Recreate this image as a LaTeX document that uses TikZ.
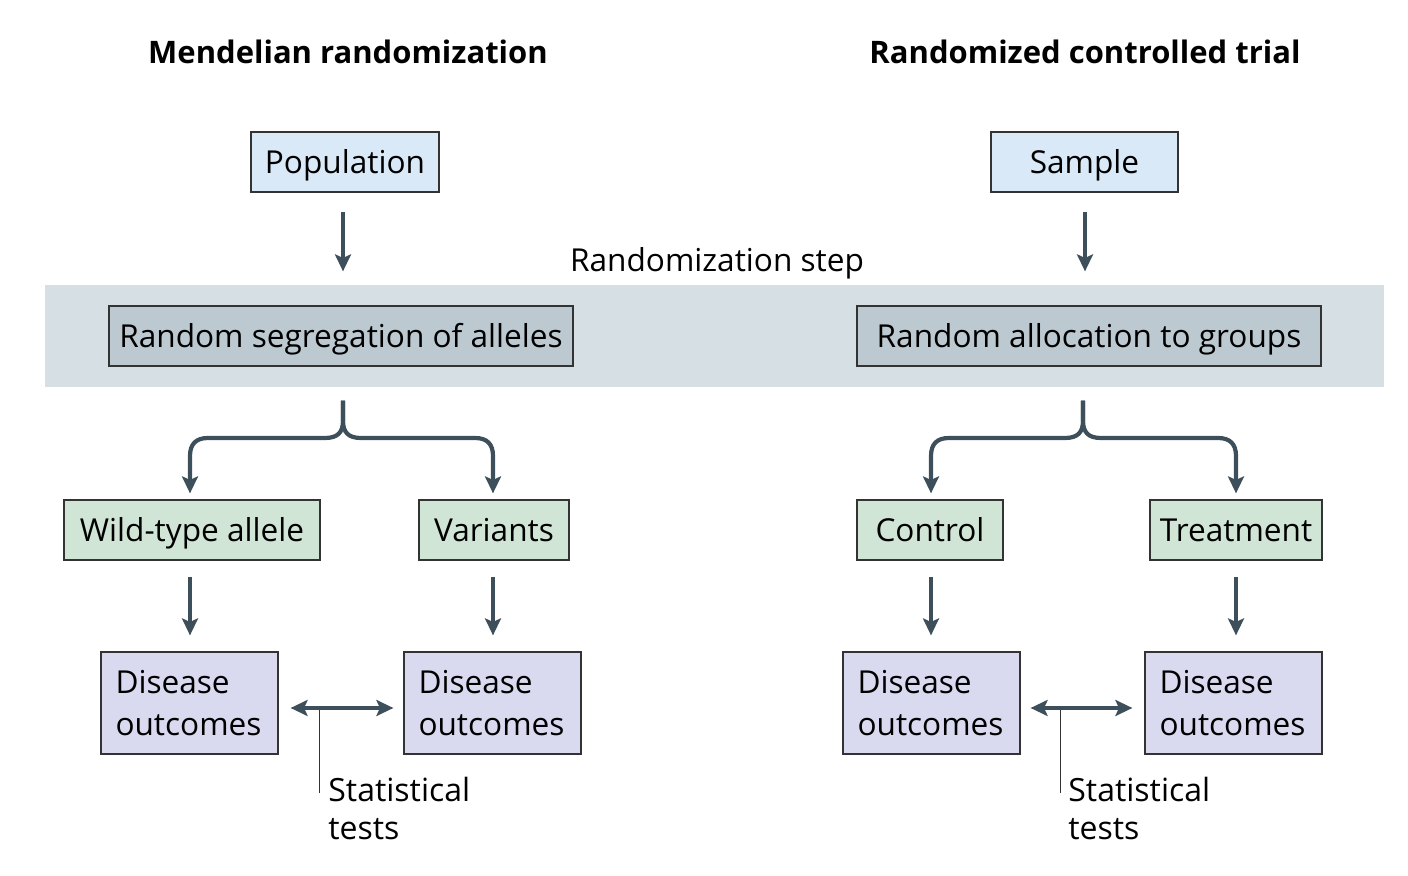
\documentclass[tikz,border=0pt]{standalone}
\usepackage{fontspec}
\setmainfont{Open Sans}
\usetikzlibrary{arrows.meta,calc}
\definecolor{arrc}{HTML}{3D4F5A}
\definecolor{bluebox}{HTML}{DAE9F7}
\definecolor{bandc}{HTML}{D6DFE3}
\definecolor{graybox}{HTML}{BCC9D1}
\definecolor{greenbox}{HTML}{D0E5D5}
\definecolor{purplebox}{HTML}{D9D9EF}
\definecolor{edgec}{HTML}{333333}
\begin{document}
\begin{tikzpicture}[x=0.5pt,y=-0.5pt,
  txt/.style={font=\fontsize{15.8}{19}\selectfont},
  ttl/.style={font=\fontsize{15.5}{18}\selectfont\bfseries},
  box/.style={draw=edgec,line width=0.6pt,inner sep=0pt,minimum height=30pt,text height=13pt,text depth=1.7pt,txt},
  bluen/.style={box,fill=bluebox},
  grayn/.style={box,fill=graybox},
  greenn/.style={box,fill=greenbox},
  dbox/.style={draw=edgec,line width=0.6pt,fill=purplebox,minimum height=51pt,text width=74pt,inner xsep=7.25pt,inner ysep=0pt,align=left,font=\fontsize{15.8}{21.3}\selectfont},
  arr/.style={draw=arrc,line width=2.1pt,-{Stealth[width=8pt,length=8.5pt,inset=1.8pt]}},
  darr/.style={draw=arrc,line width=2.1pt,{Stealth[width=8pt,length=8.5pt,inset=1.8pt]}-{Stealth[width=8pt,length=8.5pt,inset=1.8pt]}},
  thinl/.style={draw=edgec,line width=0.5pt},
  stat/.style={anchor=north west,align=left,inner sep=0pt,font=\fontsize{16}{19}\selectfont}
]
\useasboundingbox (0,0) rectangle (1408,876);
% band
\fill[bandc] (45,285) rectangle (1384,387);
% titles
\node[ttl] (t1) at (348,52) {Mendelian randomization};
\node[ttl] (t2) at (1085,52) {Randomized controlled trial};
\node[txt] (rs) at (717,263) {Randomization step};
% top boxes
\node[bluen,minimum width=94pt] (pop) at (345,162) {Population};
\node[bluen,minimum width=93.5pt] (samp) at (1084.5,162) {Sample};
\node[grayn,minimum width=232pt] (seg) at (341,336) {Random segregation of alleles};
\node[grayn,minimum width=232pt] (alloc) at (1089,336) {Random allocation to groups};
% green
\node[greenn,minimum width=128pt] (wild) at (192,530) {Wild-type allele};
\node[greenn,minimum width=75pt] (var) at (494,530) {Variants};
\node[greenn,minimum width=73pt] (ctrl) at (930,530) {Control};
\node[greenn,minimum width=86pt] (treat) at (1236,530) {Treatment};
% disease
\node[dbox] (d1) at (189.5,703) {Disease\\outcomes};
\node[dbox] (d2) at (492.5,703) {Disease\\outcomes};
\node[dbox] (d3) at (931.5,703) {Disease\\outcomes};
\node[dbox] (d4) at (1233.5,703) {Disease\\outcomes};
% statistical
\node[stat] (s1) at (328,777) {Statistical\\tests};
\node[stat] (s2) at (1068,777) {Statistical\\tests};
% arrows top
\draw[arr] ($(pop.south)+(-2,19)$) -- ($(seg.north)+(2,-34)$);
\draw[arr] ($(samp.south)+(0.5,19)$) -- ($(alloc.north)+(-4,-34)$);
% braces
\coordinate (b1) at ($(seg.south)+(2,34)$);
\draw[arr] (b1) -- ++(0,20) .. controls (343,432) and (338,438) .. (325,438) -- (208,438) .. controls (196,438) and (190,444) .. (190,456) -- ($(wild.north)+(-2,-6)$);
\draw[arr] (b1) -- ++(0,20) .. controls (343,432) and (348,438) .. (361,438) -- (475,438) .. controls (487,438) and (493,444) .. (493,456) -- ($(var.north)+(-1,-6)$);
\coordinate (b2) at ($(alloc.south)+(-6,34)$);
\draw[arr] (b2) -- ++(0,20) .. controls (1083,432) and (1078,438) .. (1065,438) -- (949,438) .. controls (937,438) and (931,444) .. (931,456) -- ($(ctrl.north)+(1,-6)$);
\draw[arr] (b2) -- ++(0,20) .. controls (1083,432) and (1088,438) .. (1101,438) -- (1218,438) .. controls (1230,438) and (1236,444) .. (1236,456) -- ($(treat.north)+(0,-6)$);
% arrows to disease
\draw[arr] ($(wild.south)+(-2,16)$) -- ($(d1.north)+(0.5,-16)$);
\draw[arr] ($(var.south)+(-1,16)$) -- ($(d2.north)+(0.5,-16)$);
\draw[arr] ($(ctrl.south)+(1,16)$) -- ($(d3.north)+(-0.5,-16)$);
\draw[arr] ($(treat.south)+(0,16)$) -- ($(d4.north)+(2.5,-16)$);
% double arrows
\draw[darr] ($(d1.east)+(12,5)$) -- ($(d2.west)+(-10,5)$);
\draw[darr] ($(d3.east)+(10,5)$) -- ($(d4.west)+(-12,5)$);
% thin lines
\coordinate (l1t) at (319,710);
\coordinate (l2t) at (1060,710);
\draw[thinl] (l1t) -- (319,793);
\draw[thinl] (l2t) -- (1060,793);
\end{tikzpicture}
\end{document}
